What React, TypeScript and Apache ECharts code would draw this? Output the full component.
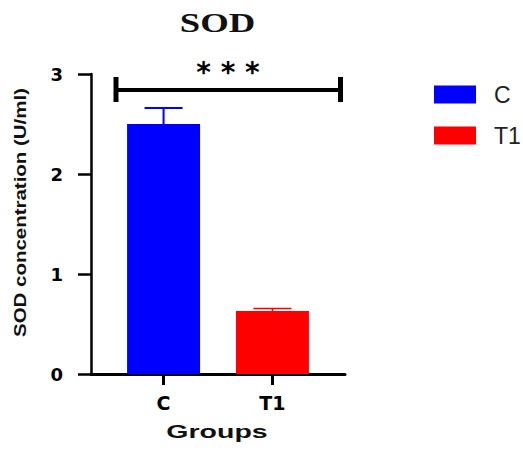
import React, { useEffect, useRef } from "react";
import * as echarts from "echarts";

// ---- data ----
const categories = ["C", "T1"];
const means = [2.5, 0.63];
const sems = [0.16, 0.025];
const colors = ["#0000FF", "#FF0000"];
const yMin = 0;
const yMax = 3;
const yInterval = 1;
const titleText = "SOD";
const xName = "Groups";
const yName = "SOD concentration (U/ml)";
const sigText = "* * *";

// layout: category slots along the x axis (padding slots keep the axis line long)
const slotCount = 8;
const slots = [2, 5];

export default function App() {
  const ref = useRef<HTMLDivElement>(null);
  useEffect(() => {
    const chart = echarts.init(ref.current!, null, { renderer: "svg" });
    const axisData: string[] = [];
    for (let i = 0; i < slotCount; i++) {
      const ci = slots.indexOf(i);
      axisData.push(ci >= 0 ? categories[ci] : `pad${i}`);
    }
    const isCat = (_idx: number, value: string) => categories.indexOf(value) >= 0;

    const barSeries = categories.map((name, ci) => {
      const data: any[] = [];
      for (let i = 0; i < slotCount; i++) data.push(i === slots[ci] ? means[ci] : "-");
      return {
        type: "bar",
        name,
        data,
        barWidth: 73,
        barGap: "-100%",
        itemStyle: { color: colors[ci] },
        silent: true,
      };
    });

    const errSeries = {
      type: "custom",
      name: "err",
      silent: true,
      z: 10,
      encode: { x: 0, y: 1 },
      data: categories.map((_c, i) => [slots[i], means[i], sems[i], i]),
      renderItem: (_params: any, api: any) => {
        const x = api.value(0);
        const m = api.value(1);
        const e = api.value(2);
        const i = api.value(3);
        const p0 = api.coord([x, m]);
        const p1 = api.coord([x, m + e]);
        const color = colors[i];
        const hw = 19;
        const lw = i === 0 ? 2 : 1.5;
        return {
          type: "group",
          children: [
            { type: "line", shape: { x1: p0[0], y1: p0[1], x2: p1[0], y2: p1[1] }, style: { stroke: color, lineWidth: lw } },
            { type: "line", shape: { x1: p1[0] - hw, y1: p1[1], x2: p1[0] + hw, y2: p1[1] }, style: { stroke: color, lineWidth: lw } },
          ],
        };
      },
    };

    const option: any = {
      animation: false,
      grid: { left: 91, right: 178, top: 74, bottom: 76, containLabel: false },
      legend: {
        data: categories,
        orient: "vertical",
        left: 429,
        top: 78,
        itemWidth: 42,
        itemHeight: 18,
        itemGap: 18,
        icon: "rect",
        selectedMode: false,
        textStyle: {
          fontFamily: "Liberation Sans",
          fontSize: 23,
          lineHeight: 23,
          color: "#222",
          padding: [0, 0, 0, 13],
        },
      },
      xAxis: {
        type: "category",
        data: axisData,
        boundaryGap: false,
        axisLine: { lineStyle: { color: "#000", width: 3 } },
        axisTick: { interval: isCat, length: 11, lineStyle: { color: "#000", width: 3 } },
        axisLabel: {
          interval: isCat,
          margin: 19,
          fontFamily: "DejaVu Sans",
          fontWeight: "bold",
          fontSize: 19,
          color: "#000",
        },
        splitLine: { show: false },
      },
      yAxis: {
        type: "value",
        min: yMin,
        max: yMax,
        interval: yInterval,
        axisLine: { show: true, lineStyle: { color: "#000", width: 2.5 } },
        axisTick: { show: true, length: 13, lineStyle: { color: "#000", width: 2.5 } },
        axisLabel: {
          margin: 28,
          fontFamily: "DejaVu Sans",
          fontWeight: "bold",
          fontSize: 18,
          color: "#000",
        },
        splitLine: { show: false },
      },
      graphic: [
        {
          type: "text",
          x: 217.5,
          y: 22.5,
          scaleX: 1.36,
          style: {
            text: titleText,
            x: 0,
            y: 0,
            textAlign: "center",
            textVerticalAlign: "middle",
            font: "bold 27px 'Liberation Serif'",
            fill: "#111",
          },
        },
        {
          type: "text",
          x: 228,
          y: 72,
          style: {
            text: sigText,
            x: 0,
            y: 0,
            textAlign: "center",
            textVerticalAlign: "middle",
            font: "bold 28px 'DejaVu Sans'",
            fill: "#000",
          },
        },
        { type: "line", shape: { x1: 116, y1: 90, x2: 340.5, y2: 90 }, style: { stroke: "#000", lineWidth: 4 } },
        { type: "line", shape: { x1: 116, y1: 77, x2: 116, y2: 102 }, style: { stroke: "#000", lineWidth: 5 } },
        { type: "line", shape: { x1: 340.5, y1: 77, x2: 340.5, y2: 102 }, style: { stroke: "#000", lineWidth: 5 } },
        {
          type: "text",
          x: 217,
          y: 431.5,
          scaleX: 1.5,
          style: {
            text: xName,
            x: 0,
            y: 0,
            textAlign: "center",
            textVerticalAlign: "middle",
            font: "bold 19px 'Liberation Sans'",
            fill: "#111",
          },
        },
        {
          type: "text",
          x: 20.5,
          y: 212.5,
          rotation: Math.PI / 2,
          scaleX: 1.28,
          style: {
            text: yName,
            x: 0,
            y: 0,
            textAlign: "center",
            textVerticalAlign: "middle",
            font: "bold 16px 'Liberation Sans'",
            fill: "#111",
          },
        },
      ],
      series: [...barSeries, errSeries],
    };
    chart.setOption(option);
    return () => chart.dispose();
  }, []);
  return <div ref={ref} style={{ position: "absolute", left: 0, top: 0, width: 523, height: 450 }} />;
}
